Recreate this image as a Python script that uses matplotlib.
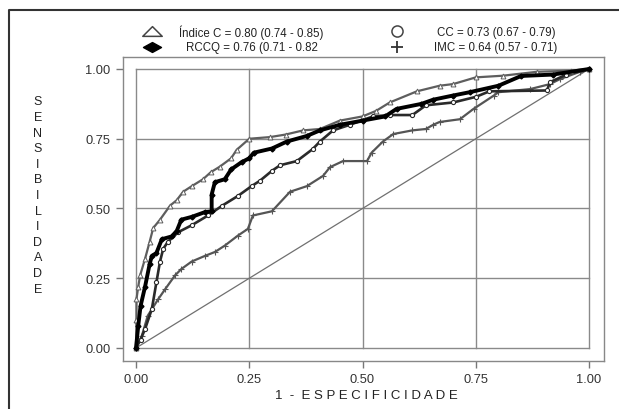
import matplotlib
matplotlib.use("Agg")
import matplotlib.pyplot as plt
from matplotlib.path import Path
from matplotlib.lines import Line2D

plt.rcParams['font.family'] = ['Liberation Sans', 'DejaVu Sans']

# ---- data ----
indice_x = [0, 0.001, 0.001, 0.005, 0.009, 0.02, 0.03, 0.038, 0.053, 0.075, 0.09, 0.104, 0.123,
            0.148, 0.165, 0.185, 0.21, 0.222, 0.25, 0.296, 0.33, 0.369, 0.406, 0.45, 0.50, 0.53,
            0.56, 0.62, 0.67, 0.70, 0.75, 0.81, 0.885, 0.96, 1.0]
indice_y = [0, 0.10, 0.175, 0.22, 0.26, 0.32, 0.38, 0.43, 0.46, 0.51, 0.53, 0.56, 0.58,
            0.605, 0.63, 0.65, 0.68, 0.71, 0.75, 0.756, 0.765, 0.78, 0.785, 0.815, 0.83, 0.85,
            0.88, 0.92, 0.94, 0.946, 0.97, 0.976, 0.99, 0.994, 1.0]

rccq_x = [0, 0.005, 0.01, 0.02, 0.03, 0.035, 0.045, 0.057, 0.079, 0.09, 0.10, 0.123, 0.152,
          0.167, 0.167, 0.174, 0.196, 0.21, 0.233, 0.25, 0.26, 0.30, 0.333, 0.377, 0.406, 0.45,
          0.50, 0.55, 0.575, 0.63, 0.656, 0.70, 0.737, 0.80, 0.85, 0.92, 1.0]
rccq_y = [0, 0.08, 0.15, 0.22, 0.30, 0.33, 0.34, 0.39, 0.40, 0.42, 0.46, 0.47, 0.487,
          0.49, 0.55, 0.594, 0.605, 0.64, 0.666, 0.68, 0.70, 0.715, 0.74, 0.76, 0.78, 0.80,
          0.815, 0.83, 0.857, 0.875, 0.89, 0.905, 0.917, 0.94, 0.975, 0.98, 1.0]

cc_x = [0, 0.01, 0.02, 0.035, 0.045, 0.053, 0.06, 0.07, 0.093, 0.123, 0.159, 0.19, 0.225,
        0.255, 0.274, 0.30, 0.318, 0.355, 0.39, 0.406, 0.435, 0.472, 0.523, 0.56, 0.61, 0.64,
        0.70, 0.75, 0.78, 0.907, 0.914, 0.95, 1.0]
cc_y = [0, 0.03, 0.068, 0.14, 0.235, 0.31, 0.355, 0.38, 0.415, 0.44, 0.475, 0.51, 0.545,
        0.58, 0.60, 0.635, 0.655, 0.67, 0.713, 0.74, 0.78, 0.80, 0.83, 0.835, 0.835, 0.87,
        0.88, 0.90, 0.92, 0.923, 0.953, 0.98, 1.0]

imc_x = [0, 0.013, 0.026, 0.049, 0.064, 0.086, 0.10, 0.123, 0.152, 0.174, 0.196, 0.225, 0.247,
         0.258, 0.30, 0.34, 0.377, 0.413, 0.428, 0.457, 0.51, 0.52, 0.545, 0.568, 0.61, 0.64,
         0.656, 0.67, 0.715, 0.745, 0.79, 0.80, 0.87, 0.914, 0.936, 0.98, 1.0]
imc_y = [0, 0.044, 0.116, 0.175, 0.21, 0.26, 0.283, 0.31, 0.33, 0.344, 0.367, 0.403, 0.427,
         0.475, 0.49, 0.56, 0.58, 0.617, 0.648, 0.67, 0.67, 0.70, 0.74, 0.767, 0.78, 0.785,
         0.80, 0.81, 0.82, 0.857, 0.905, 0.917, 0.928, 0.946, 0.964, 0.99, 1.0]

ticks = [0.0, 0.25, 0.5, 0.75, 1.0]
tick_labels = ["0.00", "0.25", "0.50", "0.75", "1.00"]
legend_labels = ["Índice C = 0.80 (0.74 - 0.85)", "CC = 0.73 (0.67 - 0.79)",
                 "RCCQ = 0.76 (0.71 - 0.82", "IMC = 0.64 (0.57 - 0.71)"]
ylabel = "SENSIBILIDADE"
xlabel = "1  -  E S P E C I F I C I D A D E"

W, H = 619, 410
fig = plt.figure(figsize=(W / 100, H / 100), dpi=100)
ax = fig.add_axes([123 / W, 1 - 362 / H, (604 - 123) / W, (362 - 58) / H])

grid_c = '#8a8a8a'
for t in ticks:
    ax.plot([0, 1], [t, t], color=grid_c, lw=1.0, zorder=1)
    ax.plot([t, t], [0, 1], color=grid_c, lw=1.0, zorder=1)
ax.plot([0, 1], [0, 1], color='#707070', lw=0.9, zorder=2)

tri = Path([(-1, -0.5), (0, 0.5), (1, -0.5), (-1, -0.5)], closed=True)
dia = Path([(-1, 0), (0, 0.55), (1, 0), (0, -0.55), (-1, 0)], closed=True)

ax.plot(imc_x, imc_y, color='#555555', lw=1.6, marker='+', ms=4, mew=0.8, zorder=3)
ax.plot(cc_x, cc_y, color='#2a2a2a', lw=1.9, marker='o', ms=3, mfc='white', mew=0.8, zorder=4)
ax.plot(indice_x, indice_y, color='#5e5e5e', lw=1.6, marker='^', ms=3.5, mfc='white', mew=0.7, zorder=5)
ax.plot(rccq_x, rccq_y, color='black', lw=2.8, marker='D', ms=2.5, zorder=6)

ax.set_xlim(-0.0287, 1.033)
ax.set_ylim(-0.0466, 1.043)
ax.set_xticks(ticks)
ax.set_xticklabels(tick_labels)
ax.set_yticks(ticks)
ax.set_yticklabels(tick_labels)
ax.tick_params(direction='out', length=5, width=1, color='#777777', labelsize=9.3,
               labelcolor='#333333', pad=4)
for s in ax.spines.values():
    s.set_color('#888888')
    s.set_linewidth(1.0)

# axis titles
fig.text(38 / W, 1 - 196 / H, "\n".join(list(ylabel)), ha='center', va='center',
         fontsize=9, color='#222222', linespacing=1.40)
fig.text(366 / W, 1 - 396 / H, xlabel, ha='center', va='center', fontsize=9.5, color='#222222')

# legend
lk = dict(transform=fig.transFigure, clip_on=False, linestyle='none')
fig.add_artist(Line2D([152 / W], [1 - 32 / H], marker=tri, ms=14, mfc='white', mec='#444444', mew=1.1, **lk))
fig.add_artist(Line2D([152 / W], [1 - 48 / H], marker=dia, ms=13, mfc='black', mec='black', **lk))
fig.add_artist(Line2D([397 / W], [1 - 32 / H], marker='o', ms=8, mfc='white', mec='#444444', mew=1.1, **lk))
fig.add_artist(Line2D([397 / W], [1 - 48 / H], marker='+', ms=9, mec='#333333', mew=1.3, **lk))
lfs = 8.3
fig.text(251 / W, 1 - 33 / H, legend_labels[0], ha='center', va='center', fontsize=lfs, color='#222222')
fig.text(496 / W, 1 - 33 / H, legend_labels[1], ha='center', va='center', fontsize=lfs, color='#222222')
fig.text(252 / W, 1 - 48 / H, legend_labels[2], ha='center', va='center', fontsize=lfs, color='#222222')
fig.text(496 / W, 1 - 48 / H, legend_labels[3], ha='center', va='center', fontsize=lfs, color='#222222')

# outer frame (left and top)
fig.add_artist(Line2D([8.5 / W, 8.5 / W, 1.0], [0.0, 1 - 11 / H, 1 - 11 / H],
                      transform=fig.transFigure, color='#333333', lw=1.5))

fig.savefig("out.png", dpi=100)
